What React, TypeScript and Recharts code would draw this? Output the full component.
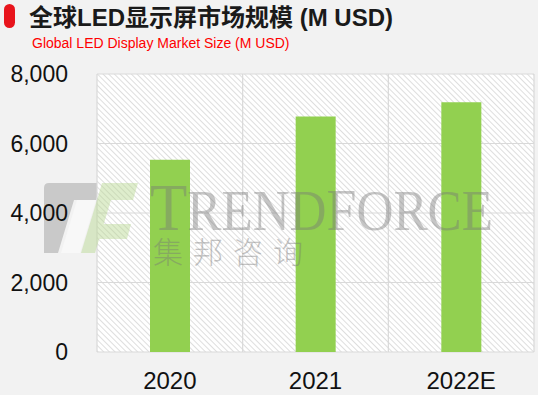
import React from "react";
import { BarChart, Bar, XAxis, YAxis, CartesianGrid } from "recharts";

const years = ["2020", "2021", "2022E"];
const marketSize = [5530, 6780, 7190];
const yTicks = [0, 2000, 4000, 6000, 8000];

const data = years.map((year, i) => ({ year, value: marketSize[i] }));

const latin = '"Liberation Sans", Arial, "Noto Sans CJK SC", sans-serif';
const layer: React.CSSProperties = { position: "absolute", left: 0, top: 0, pointerEvents: "none" };

// gray T part of the logo sits under the axis labels
const LogoBack = () => (
    <svg width={538} height={395} style={layer}>
        <path d="M49,183 L101,183 L96,200 L74,200 L58,253 L44,253 L44,188 Q44,183 49,183 Z" fill="#c9c9c9" />
        <path d="M77,200 L96,200 L80,253 L61,253 Z" fill="#f8f8f8" />
    </svg>
);

const Watermark = () => (
    <svg width={538} height={395} style={layer}>
        <g fill="#b8d890" opacity={0.45}>
            <path d="M102,183 L138,183 L133,200 L97,200 Z" />
            <path d="M97,200 L111,200 L95,253 L81,253 Z" />
            <path d="M92,224 L131,224 L127,239 L88,239 Z" />
        </g>
        <text
            x={150}
            y={230}
            textLength={343}
            lengthAdjust="spacingAndGlyphs"
            fill="#777"
            opacity={0.42}
            style={{ fontFamily: '"Liberation Serif", "DejaVu Serif", serif' }}
        >
            <tspan fontSize={68}>T</tspan>
            <tspan fontSize={57}>REND</tspan>
            <tspan fontSize={60}>F</tspan>
            <tspan fontSize={57}>ORCE</tspan>
        </text>
        <text
            x={153}
            y={263}
            textLength={150}
            lengthAdjust="spacing"
            fill="#777"
            opacity={0.42}
            fontSize={30}
            style={{ fontFamily: '"Noto Sans CJK SC", sans-serif', fontWeight: 300 }}
        >
            集邦咨询
        </text>
    </svg>
);

export default function App() {
    return (
        <div style={{ position: "absolute", left: 0, top: 0, width: 538, height: 395, background: "#f2f2f2", overflow: "hidden" }}>
            <svg width={0} height={0} style={{ position: "absolute" }}>
                <defs>
                    <pattern id="hatch" width={4} height={4} patternUnits="userSpaceOnUse" patternTransform="rotate(-45)">
                        <rect width={4} height={4} fill="#ffffff" />
                        <line x1={0} y1={0} x2={0} y2={4} stroke="#d6d6d6" strokeWidth={1.6} />
                    </pattern>
                </defs>
            </svg>
            <svg width={538} height={60} style={{ position: "absolute", left: 0, top: 0 }}>
                <rect x={4} y={4} width={11} height={24} rx={5.5} fill="#e8141c" />
                <text x={29} y={26} fontSize={24} fontWeight="bold" fill="#1a1a1a" style={{ fontFamily: latin }}>
                    全球LED显示屏市场规模 (M USD)
                </text>
                <text x={32} y={48} fontSize={14} fill="#ff0000" style={{ fontFamily: latin }}>
                    Global LED Display Market Size (M USD)
                </text>
            </svg>
            <LogoBack />
            <div style={{ position: "absolute", left: 0, top: 0 }}>
                <BarChart width={538} height={395} data={data} margin={{ top: 74, right: 4, left: 0, bottom: 0 }}>
                    <CartesianGrid
                        stroke="#d9d9d9"
                        strokeWidth={1.2}
                        fill="url(#hatch)"
                        fillOpacity={1}
                        verticalCoordinatesGenerator={({ offset }: any) =>
                            years.map((_, i) => offset.left + (i * offset.width) / years.length).concat(offset.left + offset.width)
                        }
                    />
                    <XAxis
                        dataKey="year"
                        height={43}
                        axisLine={false}
                        tickLine={false}
                        tickSize={0}
                        tickMargin={20}
                        tick={{ fill: "#111", fontSize: 24, fontFamily: latin }}
                    />
                    <YAxis
                        width={97}
                        domain={[0, 8000]}
                        ticks={yTicks}
                        axisLine={false}
                        tickLine={false}
                        tickSize={0}
                        tickMargin={29}
                        tickFormatter={(v: number) => v.toLocaleString("en-US")}
                        tick={{ fill: "#111", fontSize: 23, fontFamily: latin }}
                    />
                    <Bar dataKey="value" fill="#92d050" barSize={40} isAnimationActive={false} />
                </BarChart>
            </div>
            <Watermark />
        </div>
    );
}
